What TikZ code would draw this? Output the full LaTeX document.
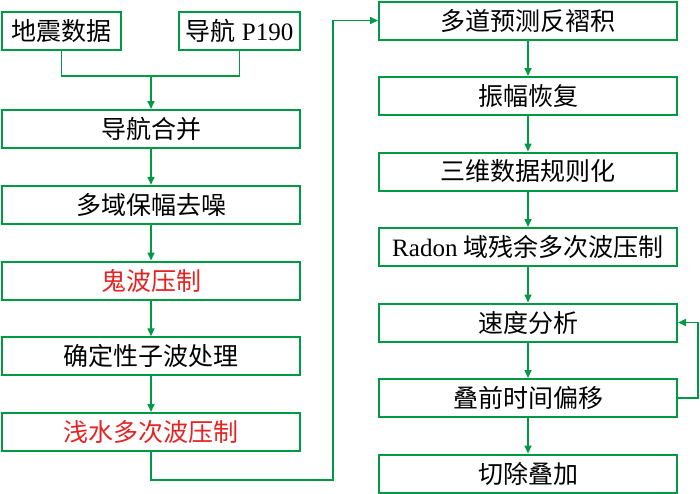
\documentclass[tikz,border=0pt]{standalone}
\usepackage{fontspec}
\setmainfont{Liberation Serif}
\newfontfamily\cjk{Noto Sans CJK SC}
\usetikzlibrary{arrows.meta}
\definecolor{boxgreen}{RGB}{0,153,68}
\definecolor{txtred}{RGB}{230,35,35}
\tikzset{
  stepbox/.style={draw=boxgreen, line width=2pt, rectangle, minimum height=38pt, inner sep=0pt,
    font=\fontsize{25}{25}\selectfont, text=black},
  leftbox/.style={stepbox, minimum width=298pt},
  rightbox/.style={stepbox, minimum width=298pt},
  conn/.style={draw=boxgreen, line width=1.6pt},
  arr/.style={conn, -{Triangle[length=8pt,width=7pt]}},
  redtext/.style={text=txtred}
}
\begin{document}
\begin{tikzpicture}[x=1pt,y=-1pt]
\useasboundingbox (0,0) rectangle (700,493);
% top inputs
\node[stepbox, minimum width=119pt] (d1) at (61.5,31) {\cjk 地震数据};
\node[stepbox, minimum width=121pt] (d2) at (239.5,31) {{\cjk 导航} P190};
% left column
\node[leftbox] (l1) at (151,129) {\cjk 导航合并};
\node[leftbox] (l2) at (151,204.75) {\cjk 多域保幅去噪};
\node[leftbox, redtext] (l3) at (151,280.5) {\cjk 鬼波压制};
\node[leftbox] (l4) at (151,356.25) {\cjk 确定性子波处理};
\node[leftbox, redtext] (l5) at (151,432) {\cjk 浅水多次波压制};
% right column
\node[rightbox] (r1) at (528,20.5) {\cjk 多道预测反褶积};
\node[rightbox] (r2) at (528,96) {\cjk 振幅恢复};
\node[rightbox] (r3) at (528,171.5) {\cjk 三维数据规则化};
\node[rightbox] (r4) at (528,247) {Radon {\cjk 域残余多次波压制}};
\node[rightbox] (r5) at (528,322.5) {\cjk 速度分析};
\node[rightbox] (r6) at (528,398) {\cjk 叠前时间偏移};
\node[rightbox] (r7) at (528,473.5) {\cjk 切除叠加};
% coordinates
\coordinate (j) at (151,76);
\coordinate (b1) at (151,480);
\coordinate (b2) at (333,480);
\coordinate (fb) at (698,398);
% connectors
\draw[conn] (d1.south) |- (j) -| (d2.south);
\draw[arr] (j) -- (l1.north);
\draw[arr] (l1) -- (l2);
\draw[arr] (l2) -- (l3);
\draw[arr] (l3) -- (l4);
\draw[arr] (l4) -- (l5);
\draw[arr] (l5.south) -- (b1) -- (b2) |- (r1.west);
\draw[arr] (r1) -- (r2);
\draw[arr] (r2) -- (r3);
\draw[arr] (r3) -- (r4);
\draw[arr] (r4) -- (r5);
\draw[arr] (r5) -- (r6);
\draw[arr] (r6) -- (r7);
\draw[arr] (r6.east) -- (fb) |- (r5.east);
\end{tikzpicture}
\end{document}
